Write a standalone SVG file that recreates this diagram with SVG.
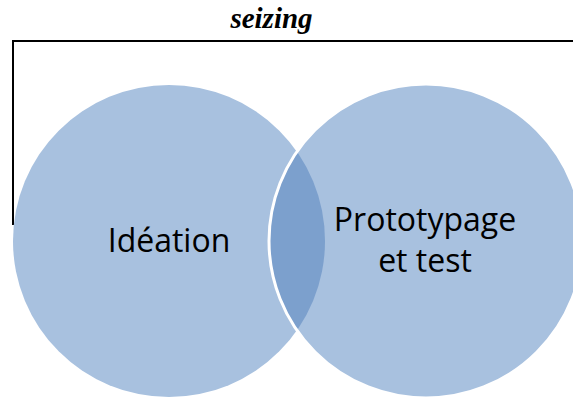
<svg xmlns="http://www.w3.org/2000/svg" width="573" height="398" viewBox="0 0 573 398">
<style>
.lbl{font-family:"Open Sans","Liberation Sans",sans-serif;font-size:32px;fill:#000;text-anchor:middle}
.circ{fill:#A8C1DF}
.title{font-family:"Liberation Serif",serif;font-size:29px;font-weight:bold;font-style:italic;text-anchor:middle;fill:#000}
</style>
<defs>
<clipPath id="rightClip"><circle cx="426" cy="241" r="157"/></clipPath>
</defs>
<g id="connectors">
<path d="M13 225 V41 H573" fill="none" stroke="#000" stroke-width="2"/>
</g>
<g id="node-ideation">
<circle class="circ" cx="169" cy="241" r="156"/>
</g>
<g id="node-prototypage">
<circle class="circ" cx="426" cy="241" r="157"/>
</g>
<g id="node-overlap">
<circle cx="169" cy="241" r="156" fill="#7CA0CD" clip-path="url(#rightClip)"/>
<circle cx="426" cy="241" r="157" fill="none" stroke="#FFFFFF" stroke-width="3"/>
</g>
<text class="lbl" x="169" y="252">Idéation</text>
<text class="lbl" x="425" y="231">Prototypage</text>
<text class="lbl" x="425" y="272">et test</text>
<text class="title" x="271.5" y="28">seizing</text>
</svg>
